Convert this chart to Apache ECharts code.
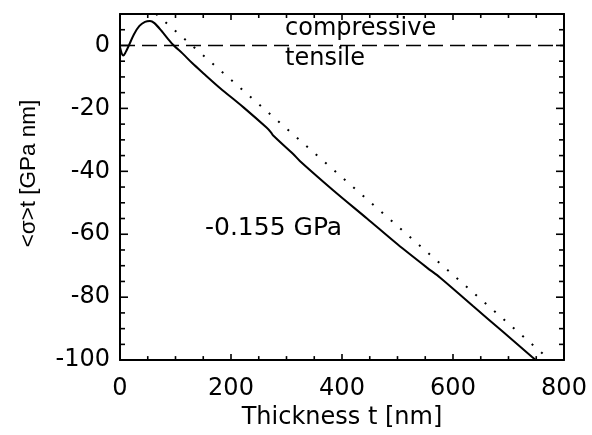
<!DOCTYPE html>
<html>
<head>
<meta charset="utf-8">
<script src="https://cdn.jsdelivr.net/npm/echarts@6/dist/echarts.min.js"></script>
<style>
html,body{margin:0;padding:0;background:#fff;overflow:hidden;}
#chart{width:592px;height:435px;}
</style>
</head>
<body>
<div id="chart"></div>
<script>
// Measured film force curve: thickness (nm), <sigma>t (GPa nm)
const measuredCurve = [
  [0,-0.5],[3,-2.5],[6,-3.2],[10,-2.2],[16,0],[25,3.5],[35,6.2],[45,7.5],[54,7.8],
  [62,7.1],[75,4.6],[86,2.2],[97,0],[113,-2.6],[130,-5.6],[150,-8.8],[180,-13.5],
  [222,-19.6],[264,-26.1],[272,-27.6],[276,-28.6],[312,-34.5],[324,-36.7],[384,-46],
  [445,-55],[500,-63.2],[553,-70.6],[577,-73.8],[636,-82.8],[690,-91],[742,-98.9],[752,-100.4]
];
// Reference slope line (-0.155 GPa), dotted
const slopeLine = [[65,10],[780,-100.8]];
// Zero line separating compressive / tensile
const zeroLine = [[0,0],[800,0]];

// Axis ticks
const xMajorTicks = [0,200,400,600,800];
const xMinorTicks = [50,100,150,250,300,350,450,500,550,650,700,750];
const yMajorTicks = [-100,-80,-60,-40,-20,0];
const yMinorTicks = [-95,-90,-85,-75,-70,-65,-55,-50,-45,-35,-30,-25,-15,-10,-5,5];
const X_MIN = 0, X_MAX = 800, X_STEP = 200;
const Y_MIN = -100, Y_MAX = 10, Y_STEP = 20;

const FONT = 'DejaVu Sans';
const TITLE_FONT = 'Liberation Sans';
const chart = echarts.init(document.getElementById('chart'));

function xAx(pos, labels){
  return {
    type:'value', position:pos, min:X_MIN, max:X_MAX, interval:X_STEP,
    axisLine:{show:true, onZero:false, lineStyle:{color:'#000', width:2}},
    axisTick:{show:false}, minorTick:{show:false}, splitLine:{show:false},
    axisLabel:{show:labels, color:'#000', fontFamily:FONT, fontSize:24, margin:17},
    name: labels ? 'Thickness t [nm]' : '',
    nameLocation:'middle', nameGap:44,
    nameTextStyle:{color:'#000', fontFamily:FONT, fontSize:24}
  };
}
function yAx(pos, labels){
  return {
    type:'value', position:pos, min:Y_MIN, max:Y_MAX, interval:Y_STEP,
    axisLine:{show:true, onZero:(pos === 'left'), lineStyle:{color:'#000', width:2}},
    axisTick:{show:false}, splitLine:{show:false},
    axisLabel:{show:labels, color:'#000', fontFamily:FONT, fontSize:24, margin:10,
      formatter:function(v){ return v > 0 ? '' : String(v); }}
  };
}

const texts = [
  {type:'text', x:285, y:29, style:{text:'compressive', fill:'#000', font:'24px "'+FONT+'"', align:'left', verticalAlign:'middle'}},
  {type:'text', x:285, y:59, style:{text:'tensile', fill:'#000', font:'24px "'+FONT+'"', align:'left', verticalAlign:'middle'}},
  {type:'text', x:205, y:228, style:{text:'-0.155 GPa', fill:'#000', font:'25px "'+FONT+'"', align:'left', verticalAlign:'middle'}},
  {type:'text', x:29, y:173.5, rotation:Math.PI/2, style:{text:'<σ>t [GPa nm]', fill:'#000', font:'22.5px "'+TITLE_FONT+'"', align:'center', verticalAlign:'middle'}}
];

chart.setOption({
  animation:false,
  backgroundColor:'#fff',
  grid:{left:120, right:28, top:14, height:348, containLabel:false},
  xAxis:[xAx('bottom', true), xAx('top', false)],
  yAxis:[yAx('left', true), yAx('right', false)],
  series:[
    {type:'line', name:'zero', xAxisIndex:0, yAxisIndex:0, data:zeroLine, showSymbol:false, symbol:'none',
     lineStyle:{color:'#000', width:1.6, type:[15,7]}},
    {type:'line', name:'slope', xAxisIndex:0, yAxisIndex:0, data:slopeLine, showSymbol:false, symbol:'none',
     lineStyle:{color:'#000', width:2, type:[2,10.5]}},
    {type:'line', name:'measured', xAxisIndex:0, yAxisIndex:0, data:measuredCurve, showSymbol:false, symbol:'none',
     smooth:0.3, lineStyle:{color:'#000', width:2}}
  ],
  graphic:texts
});

// Inward ticks on all four sides, placed through the chart's own axis scales
const finder = {xAxisIndex:0, yAxisIndex:0};
const tickEls = [];
function addX(values, len){
  values.forEach(function(v){
    const b = chart.convertToPixel(finder, [v, Y_MIN]);
    const t = chart.convertToPixel(finder, [v, Y_MAX]);
    tickEls.push({type:'line', silent:true, z:50, shape:{x1:b[0], y1:b[1], x2:b[0], y2:b[1]-len}, style:{stroke:'#000', lineWidth:1.6}});
    tickEls.push({type:'line', silent:true, z:50, shape:{x1:t[0], y1:t[1], x2:t[0], y2:t[1]+len}, style:{stroke:'#000', lineWidth:1.6}});
  });
}
function addY(values, len){
  values.forEach(function(v){
    const l = chart.convertToPixel(finder, [X_MIN, v]);
    const r = chart.convertToPixel(finder, [X_MAX, v]);
    tickEls.push({type:'line', silent:true, z:50, shape:{x1:l[0], y1:l[1], x2:l[0]+len, y2:l[1]}, style:{stroke:'#000', lineWidth:1.6}});
    tickEls.push({type:'line', silent:true, z:50, shape:{x1:r[0], y1:r[1], x2:r[0]-len, y2:r[1]}, style:{stroke:'#000', lineWidth:1.6}});
  });
}
addX(xMajorTicks, 6);
addX(xMinorTicks, 4);
addY(yMajorTicks, 8);
addY(yMinorTicks, 5);
chart.setOption({graphic: texts.concat(tickEls)});
</script>
</body>
</html>
